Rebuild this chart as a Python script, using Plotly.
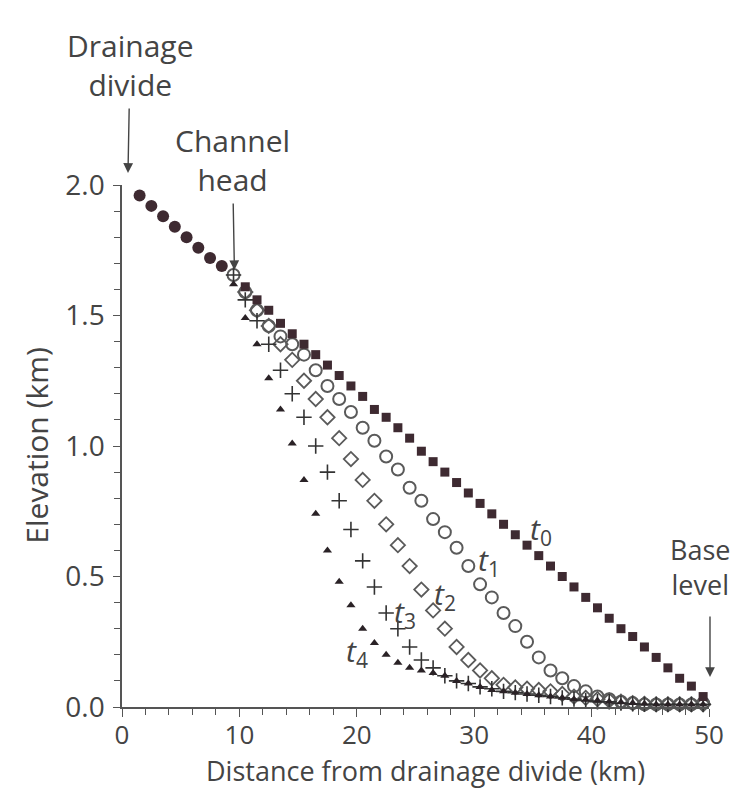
import plotly.graph_objects as go

# ---------------- data ----------------
hill_km = [1.5, 2.5, 3.5, 4.5, 5.5, 6.5, 7.5, 8.5]
hill_elev = [1.96, 1.92, 1.88, 1.84, 1.80, 1.76, 1.72, 1.69]

channel_km = [9.5, 10.5, 11.5, 12.5, 13.5, 14.5, 15.5, 16.5, 17.5, 18.5,
              19.5, 20.5, 21.5, 22.5, 23.5, 24.5, 25.5, 26.5, 27.5, 28.5,
              29.5, 30.5, 31.5, 32.5, 33.5, 34.5, 35.5, 36.5, 37.5, 38.5,
              39.5, 40.5, 41.5, 42.5, 43.5, 44.5, 45.5, 46.5, 47.5, 48.5, 49.5]

t0 = [None, 1.61, 1.56, 1.52, 1.47, 1.43, 1.39, 1.35, 1.31, 1.27,
      1.23, 1.19, 1.14, 1.11, 1.07, 1.03, 0.98, 0.94, 0.90, 0.86,
      0.82, 0.78, 0.74, 0.70, 0.66, 0.62, 0.58, 0.54, 0.50, 0.46,
      0.42, 0.38, 0.34, 0.30, 0.27, 0.23, 0.19, 0.15, 0.11, 0.08, 0.04]

t1 = [1.655, 1.59, 1.52, 1.46, 1.42, 1.39, 1.35, 1.29, 1.23, 1.18,
      1.13, 1.07, 1.02, 0.96, 0.91, 0.84, 0.79, 0.72, 0.67, 0.61,
      0.54, 0.47, 0.42, 0.36, 0.31, 0.25, 0.19, 0.14, 0.11, 0.08,
      0.06, 0.04, 0.03, 0.02, 0.015, 0.01, 0.01, 0.01, 0.01, 0.01, 0.015]

t2 = [None, 1.59, 1.52, 1.46, 1.39, 1.33, 1.25, 1.18, 1.11, 1.03,
      0.95, 0.87, 0.79, 0.70, 0.62, 0.54, 0.45, 0.37, 0.30, 0.23,
      0.18, 0.14, 0.11, 0.085, 0.075, 0.07, 0.065, 0.06, 0.05, 0.04,
      0.035, 0.03, 0.025, 0.02, 0.015, 0.012, 0.01, 0.01, 0.01, 0.01, 0.01]

t3 = [1.655, 1.56, 1.48, 1.39, 1.29, 1.20, 1.11, 1.00, 0.90, 0.79,
      0.68, 0.56, 0.46, 0.36, 0.30, 0.23, 0.18, 0.15, 0.12, 0.10,
      0.09, 0.077, 0.07, 0.06, 0.055, 0.05, 0.045, 0.04, 0.035, 0.03,
      0.025, 0.02, 0.02, 0.015, 0.012, 0.01, 0.01, 0.01, 0.01, 0.01, 0.01]

t4 = [1.62, 1.49, 1.39, 1.26, 1.14, 1.01, 0.87, 0.74, 0.60, 0.48,
      0.39, 0.30, 0.245, 0.20, 0.17, 0.15, 0.14, 0.13, 0.12, 0.10,
      0.09, 0.077, 0.065, 0.06, 0.055, 0.05, 0.045, 0.04, 0.035, 0.03,
      0.028, 0.025, 0.02, 0.018, 0.015, 0.012, 0.01, 0.01, 0.01, 0.01, 0.01]

x_ticks = [0, 10, 20, 30, 40, 50]
y_ticks = [0.0, 0.5, 1.0, 1.5, 2.0]
y_tick_text = ["0.0", "0.5", "1.0", "1.5", "2.0"]

# curve label positions (km, km)
curve_labels = [("t", "0", 35.7, 0.68), ("t", "1", 31.3, 0.56),
                ("t", "2", 27.5, 0.43), ("t", "3", 24.1, 0.36),
                ("t", "4", 20.0, 0.21)]

# ---------------- styling ----------------
FONT = "Open Sans"
TXT = "#444444"
AX = "#555555"
DARK = "#3e2a31"
GREY = "#5a5a5a"

fig = go.Figure()

fig.add_trace(go.Scatter(x=channel_km, y=t1, mode="markers", cliponaxis=False,
                         marker=dict(symbol="circle-open", size=12, color=GREY,
                                     line=dict(width=2, color=GREY))))
fig.add_trace(go.Scatter(x=channel_km, y=t2, mode="markers", cliponaxis=False,
                         marker=dict(symbol="diamond-open", size=11, color=GREY,
                                     line=dict(width=1.8, color=GREY))))
fig.add_trace(go.Scatter(x=channel_km, y=t3, mode="markers", cliponaxis=False,
                         marker=dict(symbol="cross-thin-open", size=11, color="#333333",
                                     line=dict(width=1.6, color="#333333"))))
fig.add_trace(go.Scatter(x=channel_km, y=t4, mode="markers", cliponaxis=False,
                         marker=dict(symbol="triangle-up", size=8, color="#2a2226",
                                     line=dict(width=0))))
fig.add_trace(go.Scatter(x=channel_km, y=t0, mode="markers", cliponaxis=False,
                         marker=dict(symbol="square", size=9, color=DARK,
                                     line=dict(width=0))))
fig.add_trace(go.Scatter(x=hill_km, y=hill_elev, mode="markers", cliponaxis=False,
                         marker=dict(symbol="circle", size=12, color=DARK,
                                     line=dict(width=0))))

annotations = []
for base, sub, lx, ly in curve_labels:
    annotations.append(dict(x=lx, y=ly, xref="x", yref="y", showarrow=False,
                            xanchor="center", yanchor="middle",
                            text=f"<i>{base}</i><sub>{sub}</sub>",
                            font=dict(family=FONT, size=30, color=TXT)))

arrow_common = dict(showarrow=True, arrowhead=2, arrowsize=1.4, arrowwidth=1.4,
                    arrowcolor=TXT, xref="paper", yref="paper",
                    axref="pixel", ayref="pixel",
                    font=dict(family=FONT, size=30, color=TXT), standoff=0,
                    startstandoff=2)
annotations.append(dict(text="Drainage<br>divide", x=0.0102, y=1.023, ax=2, ay=-108,
                        **arrow_common))
annotations.append(dict(text="Channel<br>head", x=0.1915, y=0.837, ax=-2, ay=-110,
                        **arrow_common))
# base level: arrow alone + text kept inside the page
annotations.append(dict(text="", x=1.0017, y=0.0575, ax=0, ay=-64, **arrow_common))
annotations.append(dict(text="Base<br>level", xref="paper", yref="paper",
                        x=1.039, y=0.268, xanchor="right", yanchor="middle",
                        align="center", showarrow=False,
                        font=dict(family=FONT, size=27, color=TXT)))

# axis titles
annotations.append(dict(text="Distance from drainage divide (km)", xref="paper",
                        yref="paper", x=0.517, y=-0.161, showarrow=False,
                        xanchor="center", yanchor="bottom",
                        font=dict(family=FONT, size=27, color=TXT)))
annotations.append(dict(text="Elevation (km)", xref="paper", yref="paper",
                        x=-0.147, y=0.5, showarrow=False, textangle=-90,
                        xanchor="center", yanchor="middle",
                        font=dict(family=FONT, size=30, color=TXT)))

fig.update_layout(
    width=728, height=784,
    margin=dict(l=114, r=24, t=177, b=85),
    paper_bgcolor="white", plot_bgcolor="white",
    showlegend=False,
    annotations=annotations,
    xaxis=dict(range=[0, 50], tickvals=x_ticks, ticks="outside", ticklen=8,
               tickwidth=1.3, tickcolor=AX, showline=True, linecolor=AX,
               linewidth=1.5, showgrid=False, zeroline=False,
               ticklabelstandoff=-4,
               tickfont=dict(family=FONT, size=26, color=TXT),
               minor=dict(dtick=2, ticks="outside", ticklen=6, tickwidth=1.2,
                          tickcolor=AX, showgrid=False)),
    yaxis=dict(range=[0, 2.0], tickvals=y_ticks, ticktext=y_tick_text,
               ticks="outside", ticklen=7, tickwidth=1.3, tickcolor=AX,
               showline=True, linecolor=AX, linewidth=1.5, showgrid=False,
               zeroline=False, ticklabelstandoff=3,
               tickfont=dict(family=FONT, size=28, color=TXT),
               minor=dict(dtick=0.1, ticks="outside", ticklen=6, tickwidth=1.2,
                          tickcolor=AX, showgrid=False)),
)

fig.write_html("out.html")
